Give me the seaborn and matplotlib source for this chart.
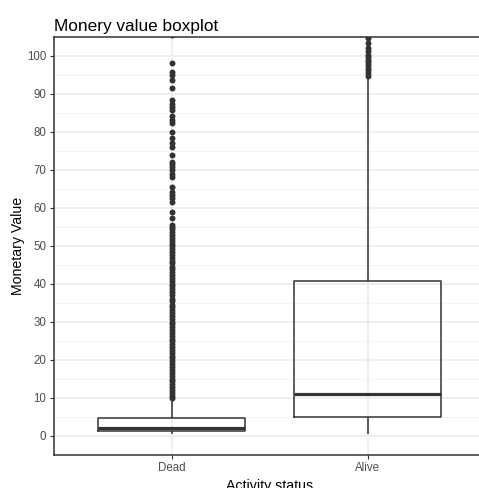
import numpy as np
import pandas as pd
import matplotlib
matplotlib.use("Agg")
import matplotlib.pyplot as plt
import seaborn as sns

# Five-number summaries per activity status: lower whisker, Q1, median, Q3, upper whisker
status = ["Dead", "Alive"]
dead_summary = [0.4, 1.15, 2.0, 4.5, 9.6]
alive_summary = [0.3, 4.8, 10.9, 40.7, 94.6]

# Observations beyond the whiskers
dead_outliers = [
    9.8, 10.5, 11.2, 12.0, 12.8, 13.5, 14.3, 15.0, 15.8, 16.5, 17.3, 18.0,
    18.8, 19.5, 20.3, 21.0, 21.8, 22.5, 23.3, 24.0, 24.8, 25.5, 26.3, 27.0,
    27.8, 28.5, 29.3, 30.0, 30.8, 31.5, 32.3, 33.0, 33.8, 34.5, 35.3, 36.0,
    37.0, 37.8, 38.5, 39.3, 40.0, 40.8, 41.5, 42.3, 43.0, 43.8, 44.5, 45.3,
    46.0, 46.8, 47.5, 48.3, 49.0, 49.8, 50.5, 51.3, 52.0, 52.8, 53.5, 54.3,
    55.0, 55.5, 57.2, 58.9, 61.6, 62.5, 63.4, 64.2, 65.5, 68.2, 69.0, 69.9,
    70.8, 71.5, 72.1, 73.9, 76.1, 77.0, 78.3, 80.0, 82.3, 83.2, 84.1, 85.7,
    86.5, 87.4, 88.3, 91.4, 93.6, 94.9, 95.8, 98.0, 105.4,
]
alive_outliers = [
    94.8, 95.5, 96.2, 96.9, 97.6, 98.3, 99.0, 99.6, 100.2,
    101.2, 102.0, 103.3, 104.6, 105.6,
]

y_ticks = list(range(0, 101, 10))

box_df = pd.DataFrame({
    "status": [status[0]] * len(dead_summary) + [status[1]] * len(alive_summary),
    "value": dead_summary + alive_summary,
})
out_df = pd.DataFrame({
    "status": [status[0]] * len(dead_outliers) + [status[1]] * len(alive_outliers),
    "value": dead_outliers + alive_outliers,
})

sns.set_theme(style="white")
plt.rcParams["font.family"] = ["Liberation Sans", "DejaVu Sans"]

dpi = 100
fig = plt.figure(figsize=(479 / dpi, 488 / dpi), dpi=dpi)
ax = fig.add_axes([54.3 / 479, 1 - 454.5 / 488, 431 / 479, (454.5 - 36.8) / 488])

line_col = "#333333"
sns.boxplot(
    data=box_df, x="status", y="value", order=status, ax=ax,
    width=0.75, whis=np.inf, fill=False, color=line_col, linecolor=line_col,
    linewidth=1.1, showcaps=False, showfliers=False,
    medianprops={"linewidth": 2.3, "color": line_col},
)
sns.stripplot(
    data=out_df, x="status", y="value", order=status, ax=ax,
    jitter=False, size=4.3, color=line_col, linewidth=0, zorder=3,
)

ax.set_xlim(-0.6, 1.6)
ax.set_ylim(-5, 105)
ax.set_yticks(y_ticks)
ax.set_yticks([v + 5 for v in y_ticks[:-1]], minor=True)

# grid: major and minor lines in light grey
ax.set_axisbelow(True)
ax.grid(True, which="major", color="#EBEBEB", linewidth=1.1)
ax.grid(True, which="minor", axis="y", color="#F2F2F2", linewidth=0.6)

for sp in ax.spines.values():
    sp.set_color(line_col)
    sp.set_linewidth(1.1)

ax.tick_params(axis="both", which="major", direction="out", length=3.2,
               width=0.8, color=line_col, labelsize=8.3, labelcolor="#4D4D4D",
               pad=2.5, left=True, bottom=True)
ax.tick_params(axis="y", which="minor", length=0)

ax.set_title("Monery value boxplot", loc="left", fontsize=12.4, color="black", pad=4.5)
ax.set_xlabel("Activity status", fontsize=10.2, color="black", labelpad=3.5)
ax.set_ylabel("Monetary Value", fontsize=10.2, color="black", labelpad=1.5)

fig.savefig("out.png", dpi=dpi)
